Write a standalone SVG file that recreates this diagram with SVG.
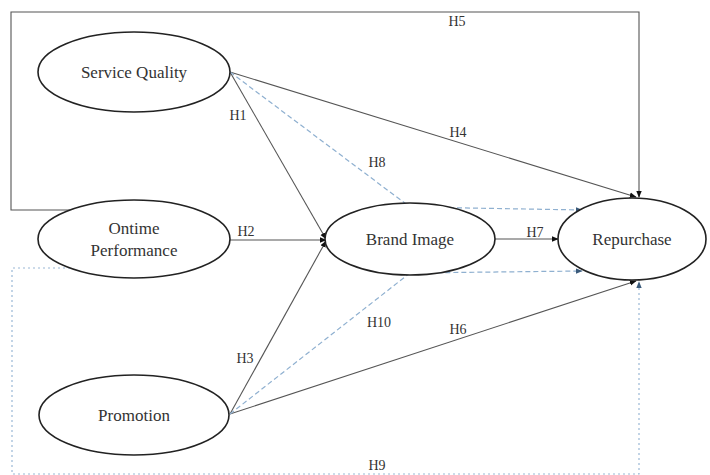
<svg xmlns="http://www.w3.org/2000/svg" width="710" height="475" viewBox="0 0 710 475">
<style>
.node{fill:#fff;stroke:#222;stroke-width:1.6}
.lbl{font-family:"Liberation Serif","DejaVu Serif",serif;font-size:17px;fill:#333;text-anchor:middle}
.h{font-family:"Liberation Serif","DejaVu Serif",serif;font-size:14px;fill:#333;text-anchor:middle}
.solid{fill:none;stroke:#555;stroke-width:1.1}
.dash{fill:none;stroke:#8fb0d0;stroke-width:1.2;stroke-dasharray:5 3}
.dot{fill:none;stroke:#9ab8d6;stroke-width:1.2;stroke-dasharray:2 3}
</style>
<defs>
<marker id="ah" viewBox="0 0 10 10" refX="9" refY="5" markerWidth="7" markerHeight="7" orient="auto" markerUnits="userSpaceOnUse">
<path d="M0,1 L10,5 L0,9 z" fill="#111"/>
</marker>
<marker id="ahb" viewBox="0 0 10 10" refX="9" refY="5" markerWidth="7" markerHeight="7" orient="auto" markerUnits="userSpaceOnUse">
<path d="M0,1 L10,5 L0,9 z" fill="#3a5a7a"/>
</marker>
</defs>
<rect width="710" height="475" fill="#fff"/>
<g id="connectors">
<path class="solid" d="M70,210 L11,210 L11,12 L639,12 L639,197" marker-end="url(#ah)"/>
<path class="dot" d="M70,268 L12,268 L12,474 L639,474 L639,282" marker-end="url(#ahb)"/>
<path class="solid" d="M230,72 L326,239" marker-end="url(#ah)"/>
<path class="solid" d="M230,240 L326,240" marker-end="url(#ah)"/>
<path class="solid" d="M230,414 L326,241" marker-end="url(#ah)"/>
<path class="solid" d="M230,72 L636,197" marker-end="url(#ah)"/>
<path class="solid" d="M230,414 L636,281" marker-end="url(#ah)"/>
<path class="solid" d="M495,239 L558,239" marker-end="url(#ah)"/>
<path class="dash" d="M230,72 L410,207 L582,210" marker-end="url(#ahb)"/>
<path class="dash" d="M230,414 L410,273 L582,271" marker-end="url(#ahb)"/>
</g>
<g id="n-service"><ellipse class="node" cx="134" cy="72" rx="96" ry="40"/><text class="lbl" x="134" y="78">Service Quality</text></g>
<g id="n-ontime"><ellipse class="node" cx="134" cy="239" rx="96" ry="39"/><text class="lbl" x="134" y="234">Ontime</text><text class="lbl" x="134" y="256">Performance</text></g>
<g id="n-promotion"><ellipse class="node" cx="134" cy="415" rx="95" ry="40"/><text class="lbl" x="134" y="421">Promotion</text></g>
<g id="n-brand"><ellipse class="node" cx="410" cy="239" rx="85" ry="36"/><text class="lbl" x="410" y="245">Brand Image</text></g>
<g id="n-repurchase"><ellipse class="node" cx="632" cy="239" rx="74" ry="41"/><text class="lbl" x="632" y="245">Repurchase</text></g>
<g id="labels">
<text class="h" x="238" y="120">H1</text>
<text class="h" x="246" y="236">H2</text>
<text class="h" x="245" y="363">H3</text>
<text class="h" x="458" y="137">H4</text>
<text class="h" x="457" y="26">H5</text>
<text class="h" x="458" y="334">H6</text>
<text class="h" x="535" y="237">H7</text>
<text class="h" x="377" y="167">H8</text>
<text class="h" x="377" y="470">H9</text>
<text class="h" x="379" y="327">H10</text>
</g>
</svg>
